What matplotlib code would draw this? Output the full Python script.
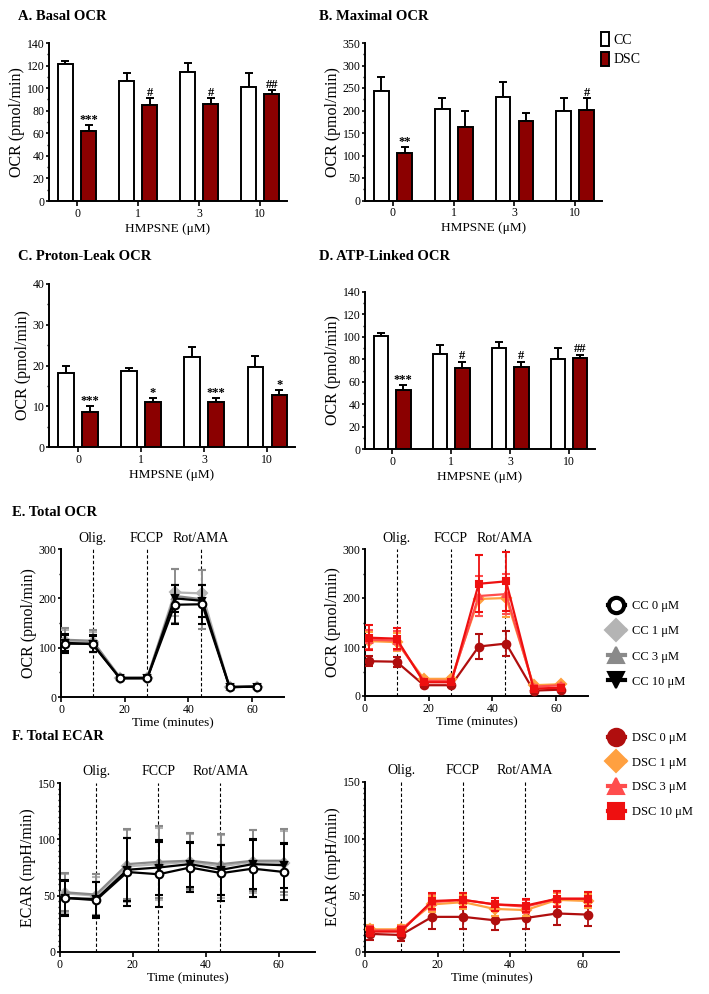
import matplotlib
matplotlib.use('Agg')
import matplotlib.pyplot as plt
from matplotlib.ticker import MultipleLocator
from matplotlib.lines import Line2D
import matplotlib.transforms as mtrans
import numpy as np

plt.rcParams['font.family'] = ['Liberation Serif', 'DejaVu Serif']
plt.rcParams['axes.linewidth'] = 1.4
plt.rcParams['xtick.major.width'] = 1.2
plt.rcParams['ytick.major.width'] = 1.2
plt.rcParams['ytick.minor.width'] = 1.0

DARKRED = '#8B0000'

# ---------------- bar data ----------------
doses = ['0', '1', '3', '10']
basal_cc = [121, 106, 114, 101]; basal_cc_err = [3, 7, 8, 12]
basal_dsc = [62, 85, 86, 95]; basal_dsc_err = [5, 6, 5, 3]
basal_sig = ['***', '#', '#', '##']
max_cc = [243, 204, 229, 200]; max_cc_err = [32, 23, 34, 28]
max_dsc = [105, 164, 176, 202]; max_dsc_err = [13, 35, 18, 26]
max_sig = ['**', '', '', '#']
leak_cc = [18.2, 18.6, 22.0, 19.7]; leak_cc_err = [1.8, 0.7, 2.5, 2.7]
leak_dsc = [8.5, 11.0, 11.0, 12.8]; leak_dsc_err = [1.5, 1.0, 1.0, 1.2]
leak_sig = ['***', '*', '***', '*']
atp_cc = [101, 85, 90, 80]; atp_cc_err = [2.5, 8, 5, 10]
atp_dsc = [53, 72, 73, 81]; atp_dsc_err = [4, 6, 5, 3]
atp_sig = ['***', '#', '#', '##']

# ---------------- time course data ----------------
time = [1.3, 9.9, 18.5, 27.1, 35.7, 44.3, 52.9, 61.5]
injections = [10, 27, 44]
injection_labels = ['Olig.', 'FCCP', 'Rot/AMA']

ocr_cc0 = [108, 108, 38, 38, 187, 188, 20, 21]; ocr_cc0_err = [18, 17, 4, 4, 40, 40, 2, 2]
ocr_cc1 = [113, 112, 38, 39, 212, 210, 20, 21]; ocr_cc1_err = [22, 20, 4, 4, 48, 47, 2, 2]
ocr_cc3 = [116, 114, 40, 40, 205, 198, 21, 22]; ocr_cc3_err = [24, 22, 5, 5, 55, 60, 2, 2]
ocr_cc10 = [110, 107, 38, 38, 200, 195, 20, 21]; ocr_cc10_err = [17, 16, 4, 4, 28, 33, 2, 2]

ocr_dsc0 = [71, 70, 22, 22, 101, 107, 11, 13]; ocr_dsc0_err = [10, 10, 3, 3, 25, 25, 2, 2]
ocr_dsc1 = [112, 110, 35, 35, 198, 200, 22, 24]; ocr_dsc1_err = [18, 18, 4, 4, 35, 38, 3, 3]
ocr_dsc3 = [115, 113, 31, 31, 204, 208, 19, 22]; ocr_dsc3_err = [20, 20, 4, 4, 40, 40, 3, 3]
ocr_dsc10 = [119, 117, 28, 28, 229, 234, 15, 17]; ocr_dsc10_err = [25, 22, 4, 4, 58, 60, 2, 2]

ecar_cc0 = [48, 46, 71, 69, 75, 70, 74, 71]; ecar_cc0_err = [16, 16, 30, 29, 22, 25, 25, 25]
ecar_cc1 = [52, 50, 76, 78, 80, 76, 80, 79]; ecar_cc1_err = [17, 17, 32, 32, 25, 28, 28, 28]
ecar_cc3 = [53, 51, 78, 80, 81, 78, 81, 81]; ecar_cc3_err = [17, 18, 31, 32, 25, 27, 27, 28]
ecar_cc10 = [48, 47, 73, 75, 78, 73, 78, 77]; ecar_cc10_err = [15, 15, 28, 24, 20, 22, 22, 20]

ecar_dsc0 = [16, 15, 31, 31, 28, 30, 34, 33]; ecar_dsc0_err = [5, 5, 11, 11, 9, 10, 10, 10]
ecar_dsc1 = [20, 20, 42, 44, 38, 37, 46, 45]; ecar_dsc1_err = [4, 4, 7, 6, 6, 5, 6, 6]
ecar_dsc3 = [19, 19, 44, 46, 42, 40, 47, 47]; ecar_dsc3_err = [4, 4, 7, 6, 6, 6, 6, 6]
ecar_dsc10 = [18, 18, 45, 46, 42, 41, 47, 47]; ecar_dsc10_err = [4, 4, 7, 6, 6, 6, 7, 6]

cc_labels = ['CC 0 \u03bcM', 'CC 1 \u03bcM', 'CC 3 \u03bcM', 'CC 10 \u03bcM']
dsc_labels = ['DSC 0 \u03bcM', 'DSC 1 \u03bcM', 'DSC 3 \u03bcM', 'DSC 10 \u03bcM']

# styles: color, marker, facecolor
cc_styles = [('black', 'o', 'white'), ('#b4b4b4', 'D', '#b4b4b4'),
             ('#8a8a8a', '^', '#8a8a8a'), ('black', 'v', 'black')]
dsc_styles = [('#B00E0E', 'o', '#B00E0E'), ('#FFA040', 'D', '#FFA040'),
              ('#FF4D4D', '^', '#FF4D4D'), ('#EE1010', 's', '#EE1010')]

fig = plt.figure(figsize=(7.09, 9.94), dpi=100)
W, H = 709.0, 994.0

TICK_FS = 8.5
XLAB_FS = 9.5
YLAB_FS = 11.5

def add_ax(x0, y0, x1, y1):
    return fig.add_axes([x0 / W, 1 - y1 / H, (x1 - x0) / W, (y1 - y0) / H])

def style_ax(ax):
    for s in ['top', 'right']:
        ax.spines[s].set_visible(False)
    ax.tick_params(axis='x', which='major', length=3.5, labelsize=TICK_FS, pad=1.5)
    ax.tick_params(axis='y', which='major', length=2.5, labelsize=TICK_FS, pad=0.8)
    ax.tick_params(axis='y', which='minor', length=1.8)

def bar_panel(ax, cc, cce, dsc, dsce, sig, ymax, major, minor, show_xlabel=True):
    x = np.arange(len(doses))
    off, w = 0.19, 0.245
    ax.errorbar(x - off, cc, yerr=[np.zeros(len(cc)), cce], fmt='none', ecolor='black',
                elinewidth=1.4, capsize=3, capthick=1.4, zorder=1)
    ax.errorbar(x + off, dsc, yerr=[np.zeros(len(dsc)), dsce], fmt='none', ecolor='black',
                elinewidth=1.4, capsize=3, capthick=1.4, zorder=1)
    ax.bar(x - off, cc, w, color='white', edgecolor='black', lw=1.4, zorder=2, label='CC')
    ax.bar(x + off, dsc, w, color=DARKRED, edgecolor='black', lw=1.4, zorder=2, label='DSC')
    for xi, v, e, s in zip(x, dsc, dsce, sig):
        if s:
            ax.annotate(s, (xi + off, v + e), xytext=(0, -0.5), textcoords='offset points',
                        ha='center', va='bottom', fontsize=9, fontweight='bold')
    ax.set_xlim(-0.46, 3.44)
    ax.set_ylim(0, ymax)
    ax.set_xticks(x, doses)
    ax.yaxis.set_major_locator(MultipleLocator(major))
    ax.yaxis.set_minor_locator(MultipleLocator(minor))
    style_ax(ax)
    ax.set_ylabel('OCR (pmol/min)', fontsize=YLAB_FS, labelpad=1)
    if show_xlabel:
        ax.set_xlabel('HMPSNE (\u03bcM)', fontsize=XLAB_FS, labelpad=2)

def tc_panel(ax, series, styles, ymax, major, minor, ylabel, order):
    for i in order:
        mean, err = series[i]
        col, mk, fc = styles[i]
        ax.errorbar(time, mean, yerr=err, color=col, marker=mk, mfc=fc, mec=col,
                    ms=5 if mk != 'o' else 5.5, mew=1.5, lw=1.6, capsize=3,
                    elinewidth=1.3, capthick=1.3, zorder=3 + order.index(i))
    trans = mtrans.blended_transform_factory(ax.transData, ax.transAxes)
    for xv, lab in zip(injections, injection_labels):
        ax.axvline(xv, color='black', ls=(0, (3, 2)), lw=0.8, zorder=1)
        ax.text(xv, 1.03, lab, transform=trans, ha='center', va='bottom', fontsize=10)
    ax.set_xlim(0, 70)
    ax.set_ylim(0, ymax)
    ax.xaxis.set_major_locator(MultipleLocator(20))
    ax.yaxis.set_major_locator(MultipleLocator(major))
    ax.yaxis.set_minor_locator(MultipleLocator(minor))
    style_ax(ax)
    ax.set_ylabel(ylabel, fontsize=YLAB_FS, labelpad=1)
    ax.set_xlabel('Time (minutes)', fontsize=XLAB_FS, labelpad=1)

# ---------- panels A-D ----------
axA = add_ax(49, 43, 287, 201)
bar_panel(axA, basal_cc, basal_cc_err, basal_dsc, basal_dsc_err, basal_sig, 140, 20, 10)
axB = add_ax(365, 43, 602, 200.5)
bar_panel(axB, max_cc, max_cc_err, max_dsc, max_dsc_err, max_sig, 350, 50, 25)
axC = add_ax(49, 284, 295, 447)
bar_panel(axC, leak_cc, leak_cc_err, leak_dsc, leak_dsc_err, leak_sig, 40, 10, 5)
axD = add_ax(365, 292, 595, 449)
bar_panel(axD, atp_cc, atp_cc_err, atp_dsc, atp_dsc_err, atp_sig, 140, 20, 10)

hb, lb = axB.get_legend_handles_labels()
fig.legend(hb, lb, loc='upper left', bbox_to_anchor=(594 / W, 1 - 25 / H), frameon=False,
           fontsize=10, handlelength=0.6, handleheight=1.2, handletextpad=0.3,
           labelspacing=0.35, borderpad=0)

# ---------- panels E-F ----------
axE1 = add_ax(61, 549, 284, 697)
tc_panel(axE1, [(ocr_cc0, ocr_cc0_err), (ocr_cc1, ocr_cc1_err), (ocr_cc3, ocr_cc3_err),
                (ocr_cc10, ocr_cc10_err)], cc_styles, 300, 100, 50, 'OCR (pmol/min)', [1, 2, 3, 0])
axE2 = add_ax(365, 549, 588, 696)
tc_panel(axE2, [(ocr_dsc0, ocr_dsc0_err), (ocr_dsc1, ocr_dsc1_err), (ocr_dsc3, ocr_dsc3_err),
                (ocr_dsc10, ocr_dsc10_err)], dsc_styles, 300, 100, 50, 'OCR (pmol/min)', [0, 1, 2, 3])
axF1 = add_ax(60, 783, 315, 952)
tc_panel(axF1, [(ecar_cc0, ecar_cc0_err), (ecar_cc1, ecar_cc1_err), (ecar_cc3, ecar_cc3_err),
                (ecar_cc10, ecar_cc10_err)], cc_styles, 150, 50, 5, 'ECAR (mpH/min)', [1, 2, 3, 0])
axF2 = add_ax(365, 782, 619, 952)
tc_panel(axF2, [(ecar_dsc0, ecar_dsc0_err), (ecar_dsc1, ecar_dsc1_err), (ecar_dsc3, ecar_dsc3_err),
                (ecar_dsc10, ecar_dsc10_err)], dsc_styles, 150, 50, 5, 'ECAR (mpH/min)', [0, 1, 2, 3])

def proxies(styles):
    return [Line2D([], [], color=c, marker=m, mfc=fc, mec=c, ms=11, mew=3 if m == 'o' else 1.5,
                   lw=3) for c, m, fc in styles]

fig.legend(proxies(cc_styles), cc_labels, loc='center left', bbox_to_anchor=(602 / W, 1 - 644 / H),
           frameon=False, fontsize=9, handlelength=1.3, handletextpad=0.6, labelspacing=1.05,
           borderpad=0)
fig.legend(proxies(dsc_styles), dsc_labels, loc='center left', bbox_to_anchor=(602 / W, 1 - 775 / H),
           frameon=False, fontsize=9, handlelength=1.3, handletextpad=0.6, labelspacing=1.02,
           borderpad=0)

# ---------- titles ----------
titles = [('A. Basal OCR', 18, 17), ('B. Maximal OCR', 319, 17), ('C. Proton-Leak OCR', 18, 256),
          ('D. ATP-Linked OCR', 319, 256), ('E. Total OCR', 12, 512), ('F. Total ECAR', 12, 737)]
for t, x, y in titles:
    fig.text(x / W, 1 - y / H, t, fontsize=10.5, fontweight='bold', va='center', ha='left')

fig.savefig('out.png', dpi=100)
